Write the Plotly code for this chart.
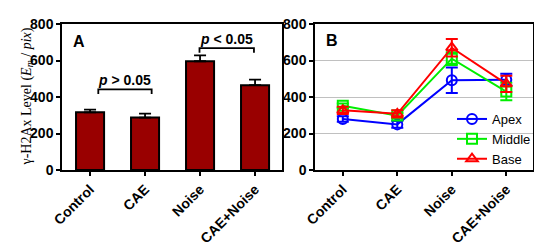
import plotly.graph_objects as go

categories = ["Control", "CAE", "Noise", "CAE+Noise"]

# Panel A
bar_values = [316, 287, 596, 465]
bar_errors = [15, 22, 32, 30]

# Panel B
apex_values = [279, 250, 492, 495]
apex_errors = [15, 18, 70, 32]
middle_values = [352, 298, 610, 430]
middle_errors = [12, 15, 35, 48]
base_values = [327, 308, 670, 472]
base_errors = [20, 20, 48, 45]

# significance brackets: (start cat, end cat, y level, label)
sig_brackets = [(0.15, 1.12, 442, "<i>p</i> > 0.05"), (1.99, 2.98, 668, "<i>p</i> < 0.05")]

y_ticks = [0, 200, 400, 600, 800]

# page body has an 8px margin; figure is sized to fit the window
OFF = 8
W, H = 542 - OFF, 252 - OFF


def px(x):
    return (x - OFF) / W


def py(y):
    return 1 - (y - OFF) / H


fig = go.Figure()

fig.add_trace(go.Bar(
    x=list(range(4)), y=bar_values,
    marker=dict(color="#990000", line=dict(color="black", width=2)),
    width=0.51,
    error_y=dict(type="data", array=bar_errors, arrayminus=[0]*4, symmetric=False,
                 color="black", thickness=1.8, width=6),
    xaxis="x", yaxis="y", showlegend=False,
))

series = [
    ("Apex", apex_values, apex_errors, "#0000FF", "circle-open"),
    ("Middle", middle_values, middle_errors, "#00EE00", "square-open"),
    ("Base", base_values, base_errors, "#FF0000", "triangle-up-open"),
]
for name, vals, errs, col, sym in series:
    fig.add_trace(go.Scatter(
        x=list(range(4)), y=vals, name=name, mode="lines+markers",
        line=dict(color=col, width=2),
        marker=dict(symbol=sym, size=10, color=col, line=dict(color=col, width=2)),
        error_y=dict(type="data", array=errs, color=col, thickness=2, width=6),
        xaxis="x2", yaxis="y2",
    ))

shapes = []
annotations = []
for x0, x1, yl, label in sig_brackets:
    shapes.append(dict(type="path", xref="x", yref="y",
                       path=f"M {x0},{yl-25} L {x0},{yl} L {x1},{yl} L {x1},{yl-25}",
                       line=dict(color="black", width=1.8)))
    annotations.append(dict(x=(x0 + x1) / 2, y=yl + 50, xref="x", yref="y", text="<b>" + label + "</b>",
                            showarrow=False, font=dict(family="Arial", size=14, color="black"),
                            xanchor="center", yanchor="middle"))

annotations.append(dict(x=-0.2, y=705, xref="x", yref="y", text="<b>A</b>", showarrow=False,
                        font=dict(family="Arial", size=16, color="black"), xanchor="center"))
annotations.append(dict(x=-0.2, y=712, xref="x2", yref="y2", text="<b>B</b>", showarrow=False,
                        font=dict(family="Arial", size=16, color="black"), xanchor="center"))
annotations.append(dict(x=px(16), y=py(97), xref="paper", yref="paper",
                        text="γ-H2Ax Level (<i>E<sub>m</sub></i> / <i>pix</i>)",
                        showarrow=False, textangle=-90,
                        font=dict(family="Liberation Serif", size=14, color="black")))

tickfont = dict(family="Arial", size=14, color="black")
common_x = dict(tickmode="array", tickvals=list(range(4)),
                ticktext=["<b>" + c + "</b>" for c in categories],
                tickangle=-45, range=[-0.51, 3.49], showline=True, linecolor="black", linewidth=1.5,
                ticks="outside", ticklen=4, tickwidth=1.5, tickcolor="black", mirror=True,
                tickfont=tickfont, showgrid=False, zeroline=False, automargin=False)
common_y = dict(tickmode="array", tickvals=y_ticks, ticktext=["<b>%d</b>" % v for v in y_ticks],
                range=[0, 800], showline=True, linecolor="black", linewidth=1.5,
                ticks="outside", ticklen=4, tickwidth=1.5, tickcolor="black", mirror=True,
                tickfont=tickfont, zeroline=False, automargin=False)

ydom = [py(170), py(24)]
fig.update_layout(
    width=W, height=H,
    margin=dict(l=0, r=0, t=0, b=0, autoexpand=False),
    paper_bgcolor="white", plot_bgcolor="white",
    xaxis=dict(domain=[px(62), px(282)], anchor="y", **common_x),
    yaxis=dict(domain=ydom, anchor="x", showgrid=False, **common_y),
    xaxis2=dict(domain=[px(315), px(533)], anchor="y2", **common_x),
    yaxis2=dict(domain=ydom, anchor="x2", showgrid=True, gridcolor="#C0C0C0", gridwidth=1, **common_y),
    shapes=shapes, annotations=annotations,
    legend=dict(x=px(452), y=py(104), xanchor="left", yanchor="top",
                bgcolor="rgba(0,0,0,0)", font=dict(family="Arial", size=13, color="black"),
                tracegroupgap=0, itemwidth=30),
    showlegend=True,
)

fig.write_html("out.html")
